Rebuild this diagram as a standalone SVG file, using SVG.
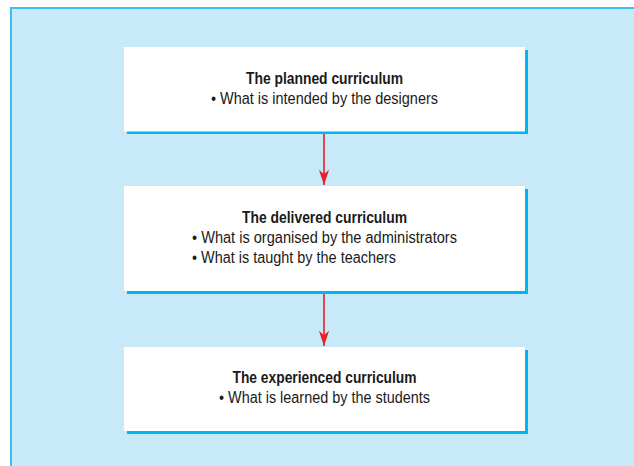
<svg xmlns="http://www.w3.org/2000/svg" width="634" height="466" viewBox="0 0 634 466">
  <style>
    .shadow { fill: #00b6ee; }
    .box { fill: #ffffff; }
    .title { font-family: "Liberation Sans", Arial, sans-serif; font-weight: bold; font-size: 16px; fill: #1a1a1a; }
    .item { font-family: "Liberation Sans", Arial, sans-serif; font-size: 16px; fill: #1a1a1a; }
    .conn { stroke: #e8202e; stroke-width: 1.6; fill: none; }
  </style>
  <defs>
    <marker id="arrow" markerUnits="userSpaceOnUse" markerWidth="16" markerHeight="12" viewBox="0 0 16 12" refX="15" refY="6" orient="auto">
      <path d="M15,6 L0,1 L4,6 L0,11 Z" fill="#e8202e"/>
    </marker>
  </defs>
  <rect x="11" y="8" width="640" height="470" fill="#c7e9f8"/>
  <path d="M11,478 L11,8 L640,8" fill="none" stroke="#3dbfee" stroke-width="2"/>

  <g id="planned">
    <rect class="shadow" x="127" y="50" width="401" height="84"/>
    <rect class="box" x="124" y="47" width="401" height="84.5"/>
    <text class="title" x="246" y="84" textLength="157" lengthAdjust="spacingAndGlyphs">The planned curriculum</text>
    <text class="item" x="211" y="104" textLength="227" lengthAdjust="spacingAndGlyphs">• What is intended by the designers</text>
  </g>

  <g id="delivered">
    <rect class="shadow" x="127" y="189" width="401" height="105"/>
    <rect class="box" x="124" y="186" width="401" height="105"/>
    <text class="title" x="242" y="223" textLength="165" lengthAdjust="spacingAndGlyphs">The delivered curriculum</text>
    <text class="item" x="192" y="243" textLength="265" lengthAdjust="spacingAndGlyphs">• What is organised by the administrators</text>
    <text class="item" x="192" y="263" textLength="204" lengthAdjust="spacingAndGlyphs">• What is taught by the teachers</text>
  </g>

  <g id="experienced">
    <rect class="shadow" x="127" y="350" width="401" height="84"/>
    <rect class="box" x="124" y="347" width="401" height="84"/>
    <text class="title" x="232.5" y="383" textLength="184" lengthAdjust="spacingAndGlyphs">The experienced curriculum</text>
    <text class="item" x="219" y="403" textLength="211" lengthAdjust="spacingAndGlyphs">• What is learned by the students</text>
  </g>

  <g id="connectors">
    <line class="conn" x1="324" y1="134" x2="324" y2="185" marker-end="url(#arrow)"/>
    <line class="conn" x1="324" y1="294" x2="324" y2="346" marker-end="url(#arrow)"/>
  </g>
</svg>
